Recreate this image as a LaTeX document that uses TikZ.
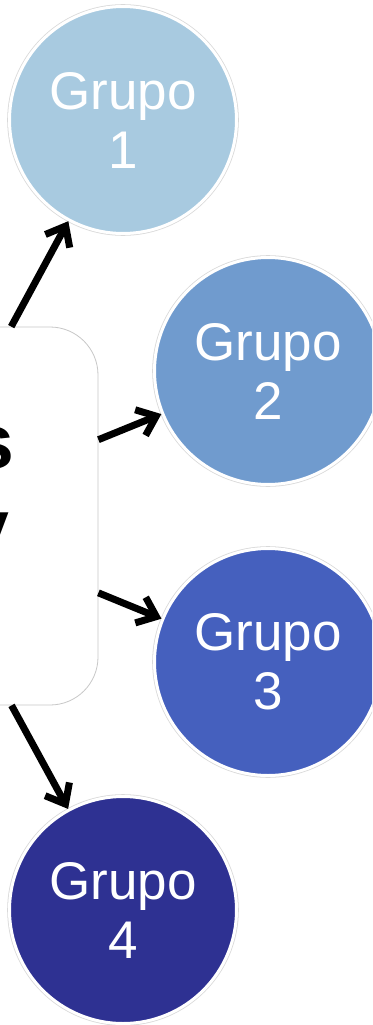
\documentclass[tikz,border=0pt]{standalone}
\usepackage{fontspec}
\setmainfont{Liberation Sans}
\usetikzlibrary{arrows.meta}
\definecolor{gA}{RGB}{168,202,224}
\definecolor{gB}{RGB}{112,155,206}
\definecolor{gC}{RGB}{69,96,190}
\definecolor{gD}{RGB}{46,49,146}
\begin{document}
\begin{tikzpicture}[x=1pt,y=-1pt,
  grp/.style={circle, minimum size=227pt, inner sep=0pt, fill=#1, draw=white,
    line width=3pt, preaction={draw=black!15, line width=4.6pt},
    text=white, font=\fontsize{53}{59}\selectfont, align=center},
  conn/.style={line width=7pt, -{Straight Barb[angle=78:22pt]}},
  big/.style={anchor=base east, inner sep=0pt, font=\bfseries\fontsize{77}{85}\selectfont}]
\useasboundingbox (0,0) rectangle (372,1025);
\clip (0,0) rectangle (372,1025);
\node[draw=black!22, line width=0.8pt, fill=white, rounded corners=48pt,
  minimum width=378pt, minimum height=378pt, inner sep=0pt] (c) at (-91,516) {};
\node[big] (ts) at (15,468) {s};
\node[big] (ty) at (10,553) {y};
\node[grp=gA] (n1) at (123,120) {Grupo\\1};
\node[grp=gB] (n2) at (268,371) {Grupo\\2};
\node[grp=gC] (n3) at (268,662) {Grupo\\3};
\node[grp=gD] (n4) at (123,910) {Grupo\\4};
\draw[conn] (c) -- (n1);
\draw[conn] (c) -- (n2);
\draw[conn] (c) -- (n3);
\draw[conn] (c) -- (n4);
\end{tikzpicture}
\end{document}
